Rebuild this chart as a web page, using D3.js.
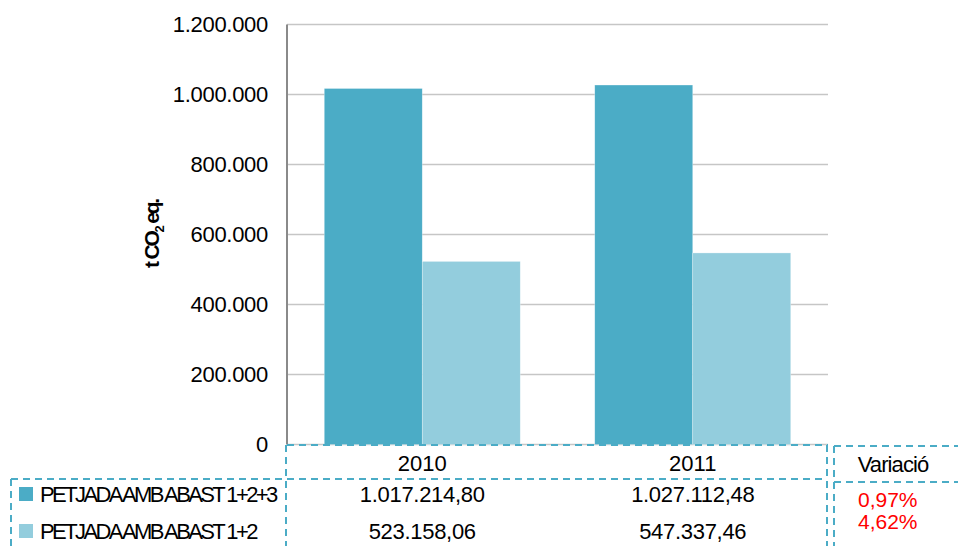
<!DOCTYPE html>
<html>
<head>
<meta charset="utf-8">
<script src="https://cdn.jsdelivr.net/npm/d3@7"></script>
<style>
  html, body { margin: 0; padding: 0; background: #fff; }
  svg { display: block; font-family: "Liberation Sans", Arial, sans-serif; }
</style>
</head>
<body>
<div id="chart"></div>
<script>
const years = ['2010', '2011'];
const seriesNames = ['PETJADA AMB ABAST 1+2+3', 'PETJADA AMB ABAST 1+2'];
const seriesTotal = [1017214.80, 1027112.48];   // abast 1+2+3
const seriesPartial = [523158.06, 547337.46];  // abast 1+2
const variacio = ['0,97%', '4,62%'];
const yTicks = [0, 200000, 400000, 600000, 800000, 1000000, 1200000];

const width = 958, height = 546;
const colors = ['#4bacc6', '#93cddd'];
const dashColor = '#4bacc6';
const fs = 22;

const svg = d3.select('#chart').append('svg')
  .attr('width', width).attr('height', height);

const x0 = d3.scaleBand().domain(years).range([287, 828])
  .paddingInner(0.2754).paddingOuter(0.1377);
const x1 = d3.scaleBand().domain([0, 1]).range([0, x0.bandwidth()]);
const y = d3.scaleLinear().domain([0, 1200000]).range([444.5, 24.5]);

// number format: 1.200.000 / 1.017.214,80
const locale = d3.formatLocale({decimal: ',', thousands: '.', grouping: [3], currency: ['', '']});
const fmtInt = locale.format(',.0f');
const fmtDec = locale.format(',.2f');

// gridlines
svg.append('g').selectAll('line').data(yTicks).join('line')
  .attr('x1', 287).attr('x2', 828)
  .attr('y1', d => y(d)).attr('y2', d => y(d))
  .attr('stroke', '#c6c6c6').attr('stroke-width', 1.5);

// y tick labels
svg.append('g').selectAll('text').data(yTicks).join('text')
  .attr('x', 268).attr('y', d => y(d)).attr('dy', '0.36em')
  .attr('text-anchor', 'end').attr('font-size', fs).attr('letter-spacing', -0.3)
  .text(d => fmtInt(d));

// bars
const rows = [seriesTotal, seriesPartial];
const grp = svg.append('g').selectAll('g').data(years).join('g')
  .attr('transform', d => `translate(${x0(d)},0)`);
grp.selectAll('rect').data((d, i) => rows.map((r, s) => ({s, v: r[i]}))).join('rect')
  .attr('x', d => x1(d.s)).attr('width', x1.bandwidth())
  .attr('y', d => y(d.v)).attr('height', d => y(0) - y(d.v))
  .attr('fill', d => colors[d.s])
  .attr('stroke', '#ffffff').attr('stroke-opacity', 0.5).attr('stroke-width', 0.6);

// y axis line
svg.append('line').attr('x1', 287).attr('x2', 287).attr('y1', y(1200000)).attr('y2', y(0))
  .attr('stroke', '#8a8a8a').attr('stroke-width', 2);

// y axis title
const yt = svg.append('text')
  .attr('transform', 'translate(159,234) rotate(-90)')
  .attr('text-anchor', 'middle').attr('font-size', 21).attr('font-weight', 'bold')
  .attr('letter-spacing', -2.2);
yt.append('tspan').text('t CO');
yt.append('tspan').attr('font-size', 13).attr('dy', 5).text('2');
yt.append('tspan').attr('dy', -5).text(' eq.');

// data table borders
const dashed = (x1p, y1p, x2p, y2p) => svg.append('line')
  .attr('x1', x1p).attr('y1', y1p).attr('x2', x2p).attr('y2', y2p)
  .attr('stroke', dashColor).attr('stroke-width', 2).attr('stroke-dasharray', '7,5');
dashed(287, 445, 828, 445);
dashed(286, 445, 286, 546);
dashed(827, 445, 827, 546);
dashed(11, 479, 827, 479);
dashed(11, 479, 11, 546);
dashed(834, 446, 958, 446);
dashed(834, 446, 834, 546);
dashed(834, 482, 958, 482);

// year headers
svg.append('g').selectAll('text').data(years).join('text')
  .attr('x', d => x0(d) + x0.bandwidth() / 2).attr('y', 471)
  .attr('text-anchor', 'middle').attr('font-size', fs).text(d => d);

// table values
const rowY = [502, 539];
rows.forEach((r, s) => {
  svg.append('g').selectAll('text').data(years).join('text')
    .attr('x', d => x0(d) + x0.bandwidth() / 2).attr('y', rowY[s])
    .attr('text-anchor', 'middle').attr('font-size', fs).attr('letter-spacing', -0.3)
    .text((d, i) => fmtDec(r[i]));
});

// legend keys in the table
svg.append('g').selectAll('rect').data(seriesNames).join('rect')
  .attr('x', 19).attr('y', (d, i) => rowY[i] - 15).attr('width', 14).attr('height', 14)
  .attr('fill', (d, i) => colors[i]);
svg.append('g').selectAll('text').data(seriesNames).join('text')
  .attr('x', 40).attr('y', (d, i) => rowY[i])
  .attr('font-size', fs).attr('letter-spacing', -2.6)
  .text(d => d);

// variació
svg.append('text').attr('x', 893).attr('y', 472).attr('text-anchor', 'middle')
  .attr('font-size', fs).attr('letter-spacing', -0.9).text('Variació');
svg.append('g').selectAll('text').data(variacio).join('text')
  .attr('x', 858).attr('y', (d, i) => 507 + i * 22)
  .attr('font-size', 21).attr('fill', '#ff0000')
  .text(d => d);
</script>
</body>
</html>
